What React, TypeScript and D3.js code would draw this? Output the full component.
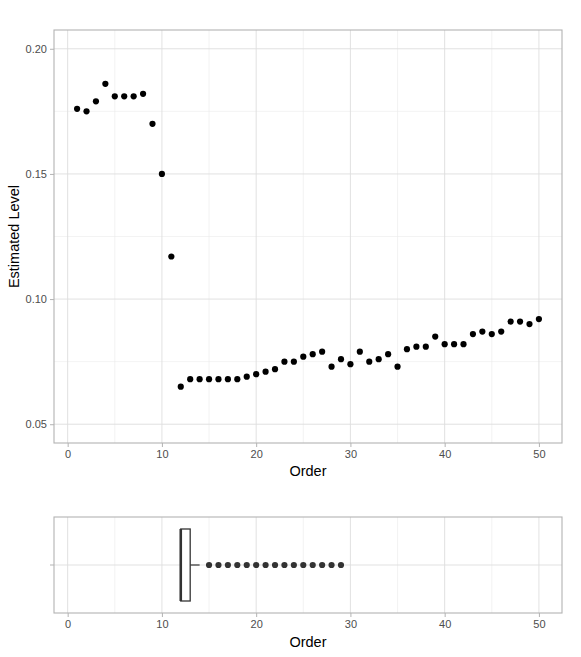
import React, { useEffect, useRef } from 'react';
import * as d3 from 'd3';

// estimated level for each position in the order (1..50)
const levels = [
  0.176, 0.175, 0.179, 0.186, 0.181, 0.181, 0.181, 0.182, 0.170, 0.150,
  0.117, 0.065, 0.068, 0.068, 0.068, 0.068, 0.068, 0.068, 0.069, 0.070,
  0.071, 0.072, 0.075, 0.075, 0.077, 0.078, 0.079, 0.073, 0.076, 0.074,
  0.079, 0.075, 0.076, 0.078, 0.073, 0.080, 0.081, 0.081, 0.085, 0.082,
  0.082, 0.082, 0.086, 0.087, 0.086, 0.087, 0.091, 0.091, 0.090, 0.092,
];

// boxplot summary of the order: lower whisker, q1, median, q3, upper whisker
const boxStats = [12, 12, 12, 13, 14];
const outliers = [15, 16, 17, 18, 19, 20, 21, 22, 23, 24, 25, 26, 27, 28, 29];

const xTicks = [0, 10, 20, 30, 40, 50];
const xMinor = [5, 15, 25, 35, 45];
const yTicks = [0.05, 0.1, 0.15, 0.2];
const yMinor = [0.075, 0.125, 0.175];

const FONT = '"Liberation Sans", Arial, Helvetica, sans-serif';

function App() {
  const ref = useRef<SVGSVGElement>(null);

  useEffect(() => {
    const svg = d3.select(ref.current);
    svg.selectAll('*').remove();

    const left = 54, right = 562;
    const x = d3.scaleLinear().domain([-1.45, 52.45]).range([left, right]);

    // ---------- top panel: scatter ----------
    const top = 30, bottom = 443;
    const y = d3.scaleLinear().domain([0.0425, 0.2075]).range([bottom, top]);
    const g1 = svg.append('g');

    g1.selectAll('.minor_y').data(yMinor).join('line')
      .attr('x1', left).attr('x2', right)
      .attr('y1', d => y(d)).attr('y2', d => y(d))
      .attr('stroke', '#ebebeb').attr('stroke-width', 0.6);
    g1.selectAll('.minor_x').data(xMinor).join('line')
      .attr('x1', d => x(d)).attr('x2', d => x(d))
      .attr('y1', top).attr('y2', bottom)
      .attr('stroke', '#ebebeb').attr('stroke-width', 0.6);
    g1.selectAll('.major_y').data(yTicks).join('line')
      .attr('x1', left).attr('x2', right)
      .attr('y1', d => y(d)).attr('y2', d => y(d))
      .attr('stroke', '#dedede').attr('stroke-width', 0.9);
    g1.selectAll('.major_x').data(xTicks).join('line')
      .attr('x1', d => x(d)).attr('x2', d => x(d))
      .attr('y1', top).attr('y2', bottom)
      .attr('stroke', '#dedede').attr('stroke-width', 0.9);

    g1.append('rect')
      .attr('x', left).attr('y', top)
      .attr('width', right - left).attr('height', bottom - top)
      .attr('fill', 'none').attr('stroke', '#b3b3b3').attr('stroke-width', 1.1);

    // axes
    const xAxis1 = g1.append('g')
      .attr('transform', `translate(0, ${bottom})`)
      .call(d3.axisBottom(x).tickValues(xTicks).tickSize(4).tickPadding(3).tickFormat(d3.format('d')));
    const yAxis1 = g1.append('g')
      .attr('transform', `translate(${left}, 0)`)
      .call(d3.axisLeft(y).tickValues(yTicks).tickSize(4).tickPadding(3).tickFormat(d3.format('.2f')));
    [xAxis1, yAxis1].forEach(a => {
      a.select('.domain').remove();
      a.selectAll('line').attr('stroke', '#b3b3b3');
      a.selectAll('text').attr('fill', '#4d4d4d').style('font-family', FONT).style('font-size', '11px');
    });

    g1.selectAll('.pt').data(levels).join('circle')
      .attr('cx', (d, i) => x(i + 1))
      .attr('cy', d => y(d))
      .attr('r', 3.1)
      .attr('fill', '#000');

    g1.append('text')
      .attr('x', (left + right) / 2).attr('y', 476)
      .attr('text-anchor', 'middle')
      .style('font-family', FONT).style('font-size', '14.5px')
      .text('Order');
    g1.append('text')
      .attr('transform', `translate(19, ${(top + bottom) / 2}) rotate(-90)`)
      .attr('text-anchor', 'middle')
      .style('font-family', FONT).style('font-size', '14.5px')
      .text('Estimated Level');

    // ---------- bottom panel: boxplot ----------
    const top2 = 517, bottom2 = 613;
    const yb = d3.scaleLinear().domain([-0.5, 0.5]).range([bottom2, top2]);
    const g2 = svg.append('g');

    g2.selectAll('.minor_x').data(xMinor).join('line')
      .attr('x1', d => x(d)).attr('x2', d => x(d))
      .attr('y1', top2).attr('y2', bottom2)
      .attr('stroke', '#ebebeb').attr('stroke-width', 0.6);
    g2.selectAll('.major_x').data(xTicks).join('line')
      .attr('x1', d => x(d)).attr('x2', d => x(d))
      .attr('y1', top2).attr('y2', bottom2)
      .attr('stroke', '#dedede').attr('stroke-width', 0.9);
    g2.append('line')
      .attr('x1', left).attr('x2', right)
      .attr('y1', yb(0)).attr('y2', yb(0))
      .attr('stroke', '#dedede').attr('stroke-width', 0.9);

    g2.append('rect')
      .attr('x', left).attr('y', top2)
      .attr('width', right - left).attr('height', bottom2 - top2)
      .attr('fill', 'none').attr('stroke', '#b3b3b3').attr('stroke-width', 1.1);

    const xAxis2 = g2.append('g')
      .attr('transform', `translate(0, ${bottom2})`)
      .call(d3.axisBottom(x).tickValues(xTicks).tickSize(4).tickPadding(3).tickFormat(d3.format('d')));
    xAxis2.select('.domain').remove();
    xAxis2.selectAll('line').attr('stroke', '#b3b3b3');
    xAxis2.selectAll('text').attr('fill', '#4d4d4d').style('font-family', FONT).style('font-size', '11px');
    g2.append('line')
      .attr('x1', left - 4).attr('x2', left)
      .attr('y1', yb(0)).attr('y2', yb(0))
      .attr('stroke', '#b3b3b3');

    const [wLo, q1, med, q3, wHi] = boxStats;
    const boxCol = '#333333';
    g2.append('line')
      .attr('x1', x(q3)).attr('x2', x(wHi))
      .attr('y1', yb(0)).attr('y2', yb(0))
      .attr('stroke', boxCol).attr('stroke-width', 1.2);
    g2.append('line')
      .attr('x1', x(wLo)).attr('x2', x(q1))
      .attr('y1', yb(0)).attr('y2', yb(0))
      .attr('stroke', boxCol).attr('stroke-width', 1.2);
    g2.append('rect')
      .attr('x', x(q1)).attr('y', yb(0.375))
      .attr('width', x(q3) - x(q1)).attr('height', yb(-0.375) - yb(0.375))
      .attr('fill', '#fff').attr('stroke', boxCol).attr('stroke-width', 1.3);
    g2.append('line')
      .attr('x1', x(med)).attr('x2', x(med))
      .attr('y1', yb(0.375)).attr('y2', yb(-0.375))
      .attr('stroke', boxCol).attr('stroke-width', 2.6);

    g2.selectAll('.outlier').data(outliers).join('circle')
      .attr('cx', d => x(d))
      .attr('cy', yb(0))
      .attr('r', 3.1)
      .attr('fill', boxCol);

    g2.append('text')
      .attr('x', (left + right) / 2).attr('y', 647)
      .attr('text-anchor', 'middle')
      .style('font-family', FONT).style('font-size', '14.5px')
      .text('Order');
  }, []);

  return (
    <div style={{ position: 'absolute', left: 0, top: 0 }}>
      <svg ref={ref} width={581} height={657} style={{ display: 'block', background: '#fff' }} />
    </div>
  );
}

export default App;
